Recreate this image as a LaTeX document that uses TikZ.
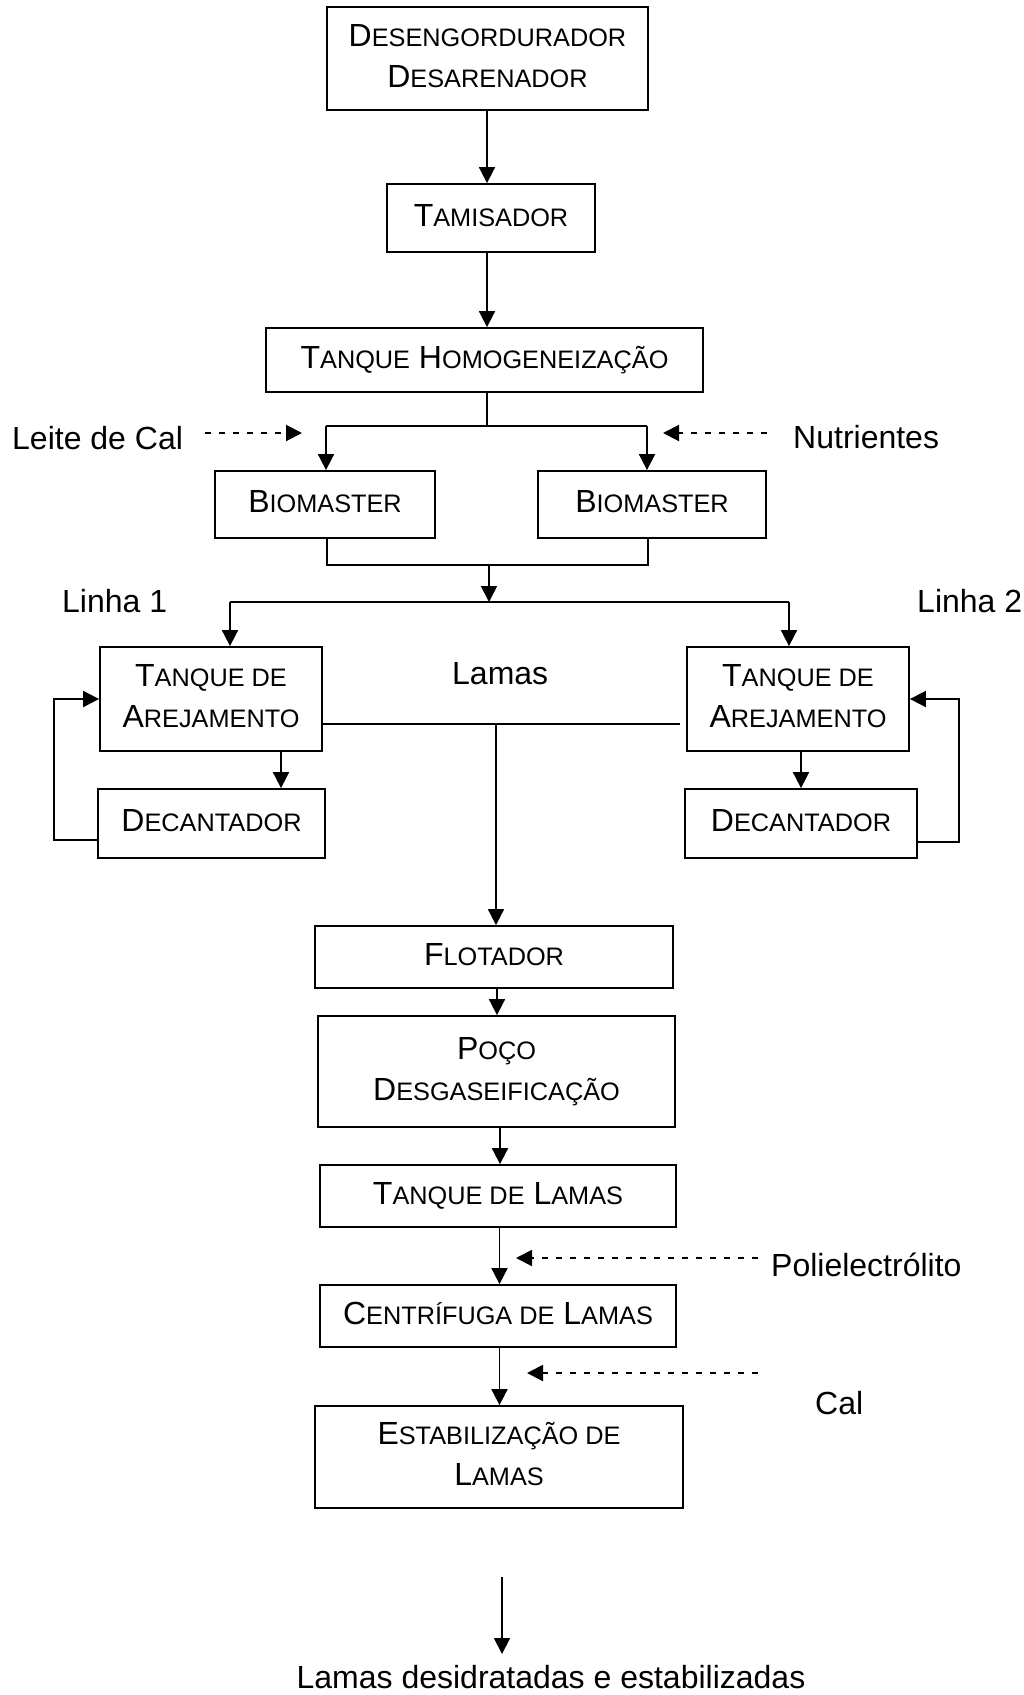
\documentclass[tikz,border=0pt]{standalone}
\usepackage{fontspec}
\setmainfont{Liberation Sans}
\usetikzlibrary{arrows.meta}
\newcommand\SCs[1]{{\fontsize{25.3}{41}\selectfont #1}}
\newcommand\Strt{\rule[-10pt]{0pt}{36pt}}
\begin{document}
\begin{tikzpicture}[x=1pt,y=-1pt,
  box/.style={draw,line width=1.8pt,inner sep=0pt,align=center,font=\fontsize{32}{41}\selectfont},
  lbl/.style={inner sep=0pt,font=\fontsize{32}{41}\selectfont},
  flow/.style={line width=1.8pt},
  arr/.style={line width=1.8pt,-{Triangle[length=16pt,width=16pt]}},
  darr/.style={line width=2pt,dash pattern=on 6pt off 8pt,-{Triangle[length=16pt,width=16pt]}}]
\path[fill=white] (0,0) rectangle (1024,1695);
\useasboundingbox (0,0) rectangle (1024,1695);

% boxes
\node[box,minimum width=321pt,minimum height=103pt] (d1) at (487.5,58.5) {\Strt D\SCs{ESENGORDURADOR}\\\Strt D\SCs{ESARENADOR}};
\node[box,minimum width=208pt,minimum height=68pt] (tam) at (491,218) {\Strt T\SCs{AMISADOR}};
\node[box,minimum width=437pt,minimum height=64pt] (th) at (484.5,360) {\Strt T\SCs{ANQUE} H\SCs{OMOGENEIZAÇÃO}};
\node[box,minimum width=220pt,minimum height=67pt] (bl) at (325,504.5) {\Strt B\SCs{IOMASTER}};
\node[box,minimum width=228pt,minimum height=67pt] (br) at (652,504.5) {\Strt B\SCs{IOMASTER}};
\node[box,minimum width=222pt,minimum height=104pt] (tal) at (211,699) {\Strt T\SCs{ANQUE DE}\\\Strt A\SCs{REJAMENTO}};
\node[box,minimum width=222pt,minimum height=104pt] (tar) at (798,699) {\Strt T\SCs{ANQUE DE}\\\Strt A\SCs{REJAMENTO}};
\node[box,minimum width=227pt,minimum height=69pt] (decl) at (211.5,823.5) {\Strt D\SCs{ECANTADOR}};
\node[box,minimum width=232pt,minimum height=69pt] (decr) at (801,823.5) {\Strt D\SCs{ECANTADOR}};
\node[box,minimum width=358pt,minimum height=62pt] (flo) at (494,957) {\Strt F\SCs{LOTADOR}};
\node[box,minimum width=357pt,minimum height=111pt] (poco) at (496.5,1071.5) {\Strt P\SCs{OÇO}\\\Strt D\SCs{ESGASEIFICAÇÃO}};
\node[box,minimum width=356pt,minimum height=62pt] (tlam) at (498,1196) {\Strt T\SCs{ANQUE DE} L\SCs{AMAS}};
\node[box,minimum width=356pt,minimum height=62pt] (cent) at (498,1316) {\Strt C\SCs{ENTRÍFUGA DE} L\SCs{AMAS}};
\node[box,minimum width=368pt,minimum height=102pt] (est) at (499,1457) {\Strt E\SCs{STABILIZAÇÃO DE}\\\Strt L\SCs{AMAS}};

% labels
\node[lbl,anchor=base west] (leite) at (12,449) {Leite de Cal};
\node[lbl,anchor=base west] (nutr) at (793,448) {Nutrientes};
\node[lbl,anchor=base west] (lin1) at (62,612) {Linha 1};
\node[lbl,anchor=base west] (lin2) at (917,612) {Linha 2};
\node[lbl,anchor=base west] (lamas) at (452,684) {Lamas};
\node[lbl,anchor=base west] (poli) at (771,1276) {Polielectrólito};
\node[lbl,anchor=base west] (cal) at (815,1414) {Cal};
\node[lbl,anchor=base] (fin) at (551,1688) {Lamas desidratadas e estabilizadas};

% coordinates
\coordinate (x487) at (487,0);
\coordinate (j1) at (487,426);
\coordinate (jl) at (326,426);
\coordinate (jr) at (647,426);
\coordinate (b1) at (327,565);
\coordinate (b2) at (648,565);
\coordinate (j2) at (489,565);
\coordinate (j3) at (489,602);
\coordinate (l1) at (230,602);
\coordinate (l2) at (789,602);
\coordinate (m1) at (496,724);
\coordinate (m2) at (680,724);
\coordinate (a1) at (281,0);
\coordinate (a2) at (801,0);
\coordinate (f1) at (54,840);
\coordinate (f2) at (959,842);
\coordinate (c1) at (497,0);
\coordinate (c2) at (500,0);
\coordinate (c3) at (499.5,0);
\coordinate (lc1) at (205,433);
\coordinate (lc2) at (302,433);
\coordinate (nu1) at (767,433);
\coordinate (nu2) at (663,433);
\coordinate (p1) at (758,1258);
\coordinate (p2) at (516,1258);
\coordinate (k1) at (758,1373);
\coordinate (k2) at (527,1373);
\coordinate (e1) at (502,1577);
\coordinate (e2) at (502,1654);

% connectors
\draw[arr] (x487 |- d1.south) -- (x487 |- tam.north);
\draw[arr] (x487 |- tam.south) -- (x487 |- th.north);
\draw[flow] (x487 |- th.south) -- (j1);
\draw[flow] (jl) -- (jr);
\draw[arr] (jl) -- (jl |- bl.north);
\draw[arr] (jr) -- (jr |- br.north);
\draw[darr] (lc1) -- (lc2);
\draw[darr] (nu1) -- (nu2);
\draw[flow] (b1 |- bl.south) -- (b1) -- (b2) -- (b2 |- br.south);
\draw[arr] (j2) -- (j3);
\draw[flow] (l1) -- (l2);
\draw[arr] (l1) -- (l1 |- tal.north);
\draw[arr] (l2) -- (l2 |- tar.north);
\draw[flow] (tal.east |- m1) -- (m2);
\draw[arr] (m1) -- (m1 |- flo.north);
\draw[arr] (a1 |- tal.south) -- (a1 |- decl.north);
\draw[arr] (a2 |- tar.south) -- (a2 |- decr.north);
\draw[arr] (decl.west |- f1) -- (f1) |- (tal.west);
\draw[arr] (decr.east |- f2) -- (f2) |- (tar.east);
\draw[arr] (c1 |- flo.south) -- (c1 |- poco.north);
\draw[arr] (c2 |- poco.south) -- (c2 |- tlam.north);
\draw[arr] (c3 |- tlam.south) -- (c3 |- cent.north);
\draw[darr] (p1) -- (p2);
\draw[arr] (c3 |- cent.south) -- (c3 |- est.north);
\draw[darr] (k1) -- (k2);
\draw[arr] (e1) -- (e2);
\end{tikzpicture}
\end{document}
